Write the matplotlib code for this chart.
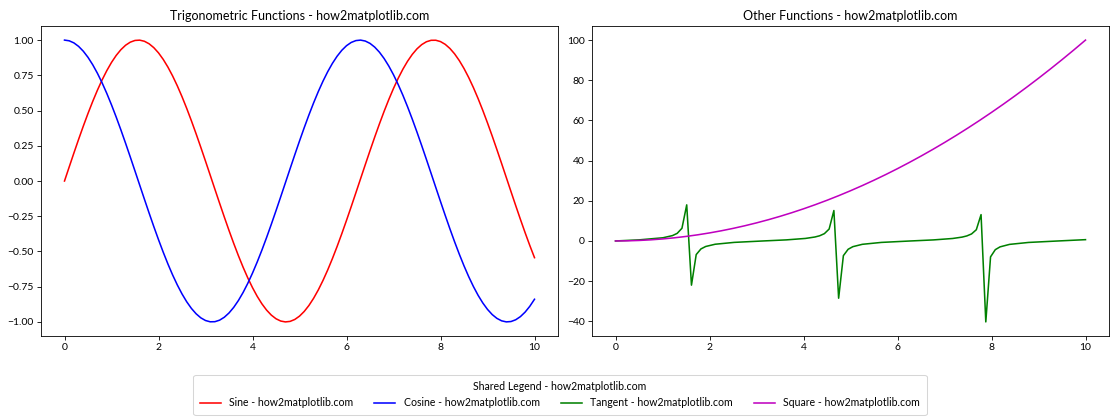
import matplotlib
matplotlib.use("Agg")
import matplotlib.pyplot as plt

plt.rcParams['font.family'] = ['Lato', 'DejaVu Sans']

# fine grid for sine / cosine
x_fine = [0.0, 0.1, 0.2, 0.3, 0.4, 0.5, 0.6, 0.7, 0.8, 0.9,
          1.0, 1.1, 1.2, 1.3, 1.4, 1.5, 1.6, 1.7, 1.8, 1.9,
          2.0, 2.1, 2.2, 2.3, 2.4, 2.5, 2.6, 2.7, 2.8, 2.9,
          3.0, 3.1, 3.2, 3.3, 3.4, 3.5, 3.6, 3.7, 3.8, 3.9,
          4.0, 4.1, 4.2, 4.3, 4.4, 4.5, 4.6, 4.7, 4.8, 4.9,
          5.0, 5.1, 5.2, 5.3, 5.4, 5.5, 5.6, 5.7, 5.8, 5.9,
          6.0, 6.1, 6.2, 6.3, 6.4, 6.5, 6.6, 6.7, 6.8, 6.9,
          7.0, 7.1, 7.2, 7.3, 7.4, 7.5, 7.6, 7.7, 7.8, 7.9,
          8.0, 8.1, 8.2, 8.3, 8.4, 8.5, 8.6, 8.7, 8.8, 8.9,
          9.0, 9.1, 9.2, 9.3, 9.4, 9.5, 9.6, 9.7, 9.8, 9.9, 10.0]
sine = [0.0000, 0.0998, 0.1987, 0.2955, 0.3894, 0.4794, 0.5646, 0.6442, 0.7174, 0.7833,
        0.8415, 0.8912, 0.9320, 0.9636, 0.9854, 0.9975, 0.9996, 0.9917, 0.9738, 0.9463,
        0.9093, 0.8632, 0.8085, 0.7457, 0.6755, 0.5985, 0.5155, 0.4274, 0.3350, 0.2392,
        0.1411, 0.0416, -0.0584, -0.1577, -0.2555, -0.3508, -0.4425, -0.5298, -0.6119, -0.6878,
        -0.7568, -0.8183, -0.8716, -0.9162, -0.9516, -0.9775, -0.9937, -0.9999, -0.9962, -0.9825,
        -0.9589, -0.9258, -0.8835, -0.8323, -0.7728, -0.7055, -0.6313, -0.5507, -0.4646, -0.3739,
        -0.2794, -0.1822, -0.0831, 0.0168, 0.1165, 0.2151, 0.3115, 0.4048, 0.4941, 0.5784,
        0.6570, 0.7290, 0.7937, 0.8504, 0.8987, 0.9380, 0.9679, 0.9882, 0.9985, 0.9989,
        0.9894, 0.9699, 0.9407, 0.9022, 0.8546, 0.7985, 0.7344, 0.6630, 0.5849, 0.5010,
        0.4121, 0.3191, 0.2229, 0.1245, 0.0248, -0.0752, -0.1743, -0.2718, -0.3665, -0.4575,
        -0.5440]
cosine = [1.0000, 0.9950, 0.9801, 0.9553, 0.9211, 0.8776, 0.8253, 0.7648, 0.6967, 0.6216,
          0.5403, 0.4536, 0.3624, 0.2675, 0.1700, 0.0707, -0.0292, -0.1288, -0.2272, -0.3233,
          -0.4161, -0.5048, -0.5885, -0.6663, -0.7374, -0.8011, -0.8569, -0.9041, -0.9422, -0.9710,
          -0.9900, -0.9991, -0.9983, -0.9875, -0.9668, -0.9365, -0.8968, -0.8481, -0.7910, -0.7259,
          -0.6536, -0.5748, -0.4903, -0.4008, -0.3073, -0.2108, -0.1122, -0.0124, 0.0875, 0.1865,
          0.2837, 0.3780, 0.4685, 0.5544, 0.6347, 0.7087, 0.7756, 0.8347, 0.8855, 0.9275,
          0.9602, 0.9833, 0.9965, 0.9999, 0.9932, 0.9766, 0.9502, 0.9144, 0.8694, 0.8157,
          0.7539, 0.6845, 0.6084, 0.5261, 0.4385, 0.3466, 0.2513, 0.1534, 0.0540, -0.0460,
          -0.1455, -0.2435, -0.3392, -0.4314, -0.5193, -0.6020, -0.6787, -0.7486, -0.8111, -0.8654,
          -0.9111, -0.9477, -0.9748, -0.9922, -0.9997, -0.9972, -0.9847, -0.9624, -0.9304, -0.8892,
          -0.8391]

x_square = [0.0, 0.25, 0.5, 0.75, 1.0, 1.25, 1.5, 1.75, 2.0, 2.25, 2.5, 2.75,
            3.0, 3.25, 3.5, 3.75, 4.0, 4.25, 4.5, 4.75, 5.0, 5.25, 5.5, 5.75,
            6.0, 6.25, 6.5, 6.75, 7.0, 7.25, 7.5, 7.75, 8.0, 8.25, 8.5, 8.75,
            9.0, 9.25, 9.5, 9.75, 10.0]
square = [0.0, 0.0625, 0.25, 0.5625, 1.0, 1.5625, 2.25, 3.0625, 4.0, 5.0625,
          6.25, 7.5625, 9.0, 10.5625, 12.25, 14.0625, 16.0, 18.0625, 20.25,
          22.5625, 25.0, 27.5625, 30.25, 33.0625, 36.0, 39.0625, 42.25, 45.5625,
          49.0, 52.5625, 56.25, 60.0625, 64.0, 68.0625, 72.25, 76.5625, 81.0,
          85.5625, 90.25, 95.0625, 100.0]

x_tan = [0.0, 0.505, 1.0101, 1.2121, 1.3131, 1.4141, 1.5152, 1.6162, 1.7172,
         1.8182, 1.9192, 2.1212, 2.5253, 3.1313, 3.6364, 4.0404, 4.2424, 4.3434,
         4.4444, 4.5455, 4.6465, 4.7475, 4.8485, 4.9495, 5.0505, 5.2525, 5.6566,
         6.2626, 6.7677, 7.1717, 7.3737, 7.4747, 7.5758, 7.6768, 7.7778, 7.8788,
         7.9798, 8.0808, 8.1818, 8.3838, 8.7879, 9.3939, 10.0]
tangent = [0.0, 0.553, 1.592, 2.668, 3.794, 6.33, 17.97, -22.0, -6.78, -3.96,
           -2.75, -1.63, -0.709, -0.0103, 0.540, 1.256, 1.968, 2.581, 3.642,
           5.935, 15.15, -28.5, -7.31, -4.14, -2.84, -1.667, -0.724, -0.0206,
           0.526, 1.229, 1.917, 2.504, 3.501, 5.583, 13.11, -40.3, -7.91, -4.33,
           -2.94, -1.707, -0.739, -0.031, 0.648]

titles = ["Trigonometric Functions - how2matplotlib.com",
          "Other Functions - how2matplotlib.com"]
labels = ["Sine - how2matplotlib.com", "Cosine - how2matplotlib.com",
          "Tangent - how2matplotlib.com", "Square - how2matplotlib.com"]
legend_title = "Shared Legend - how2matplotlib.com"

DPI = 75
fig, (ax1, ax2) = plt.subplots(1, 2, figsize=(1120 / DPI, 420 / DPI), dpi=DPI)
fig.subplots_adjust(left=41/1120, right=1109/1120, top=1-26/420,
                    bottom=1-336/420, wspace=34/517)

l1, = ax1.plot(x_fine, sine, color='r', label=labels[0])
l2, = ax1.plot(x_fine, cosine, color='b', label=labels[1])
ax1.set_title(titles[0])
l3, = ax2.plot(x_tan, tangent, color='g', label=labels[2])
l4, = ax2.plot(x_square, square, color='m', label=labels[3])
ax2.set_title(titles[1])

fig.legend(handles=[l1, l2, l3, l4], loc='lower center',
           bbox_to_anchor=(0.5, 0.0), ncol=4, title=legend_title,
           fontsize=10.1, title_fontsize=10.1, borderpad=0.6)

fig.savefig("out.png", dpi=DPI)
